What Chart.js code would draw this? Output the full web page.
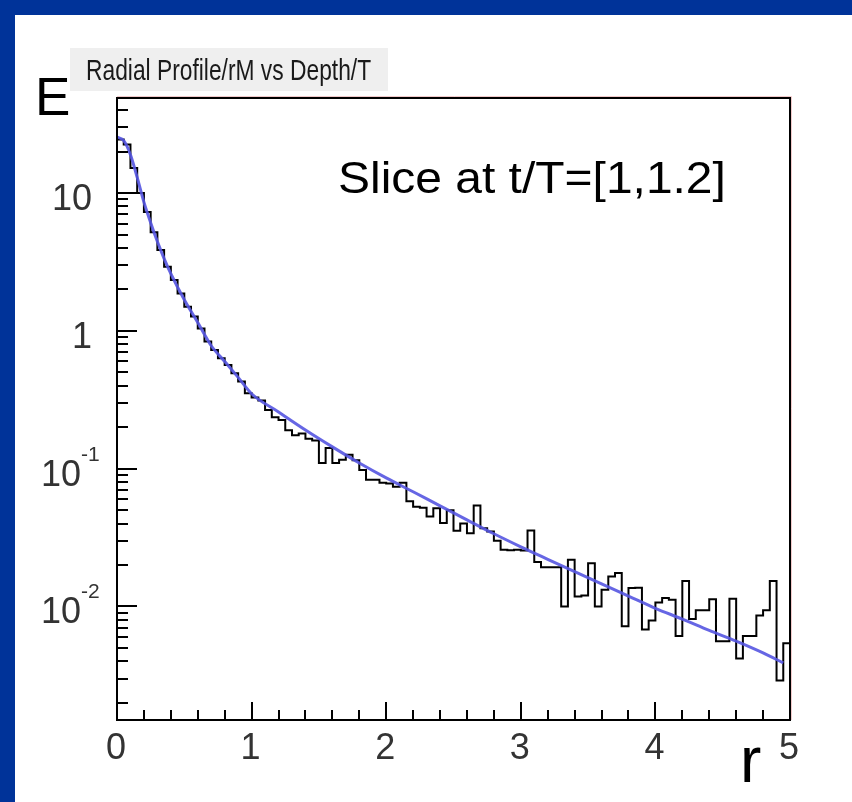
<!DOCTYPE html>
<html lang="en">
<head>
<meta charset="UTF-8">
<title>Radial Profile/rM vs Depth/T</title>
<style>
  html, body { margin: 0; padding: 0; background: #003399; }
  canvas { display: block; }
</style>
</head>
<body>
<canvas id="profileChart" width="852" height="802"></canvas>
<script src="https://cdn.jsdelivr.net/npm/chart.js"></script>
<script>
// histogram: 100 bins of width 0.05 in r, energy per bin
const binWidth = 0.05
const binValues = [
  24.5, 22.5, 15.2, 10.0, 7.3, 5.2, 3.86, 2.92, 2.34, 1.87,
  1.5, 1.27, 1.04, 0.836, 0.727, 0.633, 0.566, 0.493, 0.429, 0.353,
  0.328, 0.312, 0.267, 0.236, 0.226, 0.19, 0.175, 0.18, 0.165, 0.16,
  0.11, 0.141, 0.11, 0.116, 0.126, 0.115, 0.098, 0.083, 0.083, 0.079,
  0.078, 0.074, 0.079, 0.058, 0.053, 0.052, 0.045, 0.0517, 0.0403, 0.05,
  0.0355, 0.04, 0.034, 0.054, 0.037, 0.035, 0.03, 0.0258, 0.0256, 0.0258,
  0.0255, 0.0356, 0.021, 0.0193, 0.0193, 0.0193, 0.0100, 0.0218, 0.0118, 0.0120,
  0.0206, 0.0100, 0.0132, 0.0165, 0.0175, 0.0072, 0.0136, 0.0137, 0.0068, 0.0079,
  0.0107, 0.0115, 0.0112, 0.0061, 0.0153, 0.0081, 0.0094, 0.0094, 0.0113, 0.0056,
  0.0056, 0.0114, 0.0042, 0.0061, 0.0061, 0.0086, 0.0094, 0.0153, 0.0029, 0.0054
]

// fitted curve (blue), sampled by eye
const fitR = [0, 0.05, 0.1, 0.15, 0.2, 0.25, 0.3, 0.35, 0.4, 0.5, 0.6, 0.7, 0.8, 0.9, 1.0,
  1.2, 1.4, 1.6, 1.8, 2.0, 2.2, 2.4, 2.6, 2.8, 3.0, 3.2, 3.4, 3.6, 3.8, 4.0,
  4.2, 4.4, 4.6, 4.8, 4.95]
const fitE = [25.5, 24, 19, 13, 8.6, 6.1, 4.45, 3.35, 2.6, 1.68, 1.15, 0.78, 0.6, 0.46, 0.35,
  0.258, 0.191, 0.144, 0.110, 0.0857, 0.068, 0.0537, 0.0425, 0.0337, 0.0271, 0.022, 0.0179, 0.0146, 0.0119, 0.0097,
  0.0081, 0.0067, 0.0056, 0.0046, 0.0039]

const xTicks = [0, 1, 2, 3, 4, 5]
const xTickLabels = ['0', '1', '2', '3', '4', '5']
const yTicks = [10, 1, 0.1, 0.01]
const yTickLabels = [['10', ''], ['1', ''], ['10', '-1'], ['10', '-2']]

const titleText = 'Radial Profile/rM vs Depth/T'
const sliceText = 'Slice at t/T=[1,1.2]'

const histPoints = binValues.map((v, i) => ({ x: i * binWidth, y: v }))
histPoints.push({ x: binValues.length * binWidth, y: binValues[binValues.length - 1] })
const fitPoints = fitR.map((r, i) => ({ x: r, y: fitE[i] }))

const labelFont = '"Liberation Sans", Arial, sans-serif'

const rootFrame = {
  id: 'rootFrame',
  beforeDraw(chart) {
    const ctx = chart.ctx
    ctx.save()
    ctx.fillStyle = '#003399'
    ctx.fillRect(0, 0, chart.width, chart.height)
    ctx.fillStyle = '#ffffff'
    ctx.fillRect(15, 15, chart.width - 15, chart.height - 15)
    // title box
    ctx.fillStyle = '#efefef'
    ctx.fillRect(70, 48, 318, 43)
    ctx.restore()
  },
  afterDraw(chart) {
    const { ctx, chartArea: a } = chart
    const xs = chart.scales.x
    const ys = chart.scales.y
    ctx.save()

    // frame
    ctx.strokeStyle = '#f2caca'
    ctx.lineWidth = 1
    ctx.beginPath()
    ctx.moveTo(a.left, a.top - 1.5)
    ctx.lineTo(a.right + 1.5, a.top - 1.5)
    ctx.lineTo(a.right + 1.5, a.bottom)
    ctx.stroke()
    ctx.strokeStyle = '#000'
    ctx.lineWidth = 2
    ctx.strokeRect(a.left, a.top, a.right - a.left, a.bottom - a.top)

    // x ticks (inside, pointing up)
    ctx.lineWidth = 2
    ctx.beginPath()
    for (let i = 0; i <= 25; i++) {
      const v = i * 0.2
      const px = Math.round(xs.getPixelForValue(v))
      const len = (i % 5 === 0) ? 18 : 10
      ctx.moveTo(px, a.bottom)
      ctx.lineTo(px, a.bottom - len)
    }
    // y ticks (inside, pointing right)
    for (let k = -3; k <= 1; k++) {
      for (let m = 1; m <= 9; m++) {
        const v = m * Math.pow(10, k)
        if (v < ys.min || v > ys.max) continue
        const py = Math.round(ys.getPixelForValue(v))
        const len = m === 1 ? 20 : 11
        ctx.moveTo(a.left, py)
        ctx.lineTo(a.left + len, py)
      }
    }
    ctx.stroke()

    // tick labels
    ctx.fillStyle = '#333'
    ctx.textBaseline = 'alphabetic'
    ctx.font = '36px ' + labelFont
    ctx.textAlign = 'center'
    xTicks.forEach((v, i) => {
      ctx.fillText(xTickLabels[i], xs.getPixelForValue(v) - 1, a.bottom + 39)
    })
    yTicks.forEach((v, i) => {
      const py = ys.getPixelForValue(v)
      const [base, exp] = yTickLabels[i]
      if (!exp) {
        ctx.font = '36px ' + labelFont
        ctx.textAlign = 'right'
        ctx.fillText(base, 92, py + 17)
      } else {
        ctx.font = '36px ' + labelFont
        ctx.textAlign = 'right'
        ctx.fillText(base, 81, py + 17)
        ctx.font = '21px ' + labelFont
        ctx.textAlign = 'left'
        ctx.fillText(exp, 81, py - 8)
      }
    })

    // histogram title
    ctx.fillStyle = '#1a1a1a'
    ctx.textAlign = 'left'
    ctx.save()
    ctx.translate(86, 80)
    ctx.scale(0.76, 1)
    ctx.font = '30px ' + labelFont
    ctx.fillText(titleText, 0, 0)
    ctx.restore()

    // slide annotations
    ctx.fillStyle = '#000'
    ctx.save()
    ctx.translate(338, 193)
    ctx.scale(1.09, 1)
    ctx.font = '44px ' + labelFont
    ctx.fillText(sliceText, 0, 0)
    ctx.restore()
    ctx.font = '53px ' + labelFont
    ctx.fillText('E', 35, 115)
    ctx.font = '64px ' + labelFont
    ctx.fillText('r', 740, 782)
    ctx.restore()
  }
}

new Chart(document.getElementById('profileChart'), {
  type: 'line',
  data: {
    datasets: [
      {
        label: 'fit',
        data: fitPoints,
        borderColor: 'rgba(85, 85, 225, 0.9)',
        borderWidth: 3,
        pointRadius: 0,
        cubicInterpolationMode: 'monotone',
        fill: false,
        order: 1
      },
      {
        label: 'Radial Profile',
        data: histPoints,
        borderColor: '#000',
        borderWidth: 2,
        pointRadius: 0,
        stepped: 'before',
        fill: false,
        order: 2
      }
    ]
  },
  options: {
    responsive: false,
    animation: false,
    layout: { padding: { left: 117, top: 98, right: 62, bottom: 82 } },
    plugins: {
      legend: { display: false },
      tooltip: { enabled: false }
    },
    scales: {
      x: {
        type: 'linear',
        min: 0,
        max: 5,
        ticks: { display: false },
        grid: { display: false },
        border: { display: false },
        afterFit: s => { s.height = 0 }
      },
      y: {
        type: 'logarithmic',
        min: 0.0015,
        max: 49,
        ticks: { display: false },
        grid: { display: false },
        border: { display: false },
        afterFit: s => { s.width = 0 }
      }
    }
  },
  plugins: [rootFrame]
})
</script>
</body>
</html>
